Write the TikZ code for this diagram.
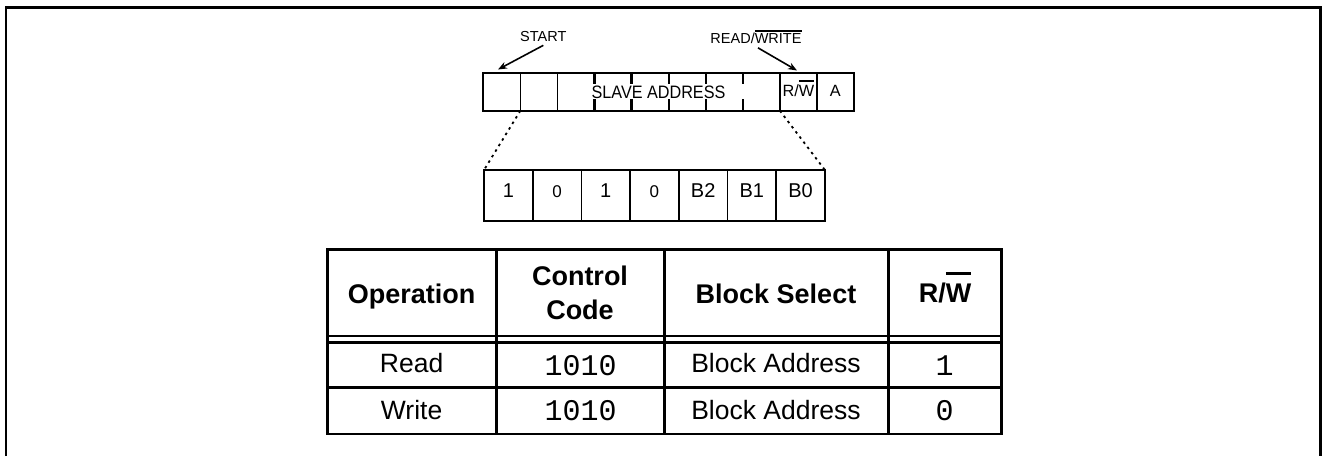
\documentclass[tikz,border=0pt]{standalone}
\usepackage{fontspec}
\setmainfont{Liberation Sans}
\newfontfamily\narrowsf[FakeStretch=0.9]{Liberation Sans}
\newfontfamily\monof{Liberation Mono}
\usetikzlibrary{arrows.meta}
\newlength\ovlen
\newcommand\ovtext[3]{\settowidth\ovlen{#3}\makebox[0pt][l]{\rule[#1]{\ovlen}{#2}}#3}
\begin{document}
\begin{tikzpicture}[x=1pt,y=-1pt,
  cell/.style={minimum width=37.07pt, minimum height=37.7pt, inner sep=0pt, outer sep=0pt, anchor=north west},
  bitcell/.style={draw, line width=1.8pt, minimum width=48.7pt, minimum height=51pt, inner sep=0pt, outer sep=0pt, anchor=north west},
  lbl/.style={font=\fontsize{14.5}{16}\selectfont, inner sep=1pt, anchor=base},
  celltxt/.style={font=\fontsize{16.3}{18}\selectfont, inner sep=0pt, anchor=base},
  bittxt/.style={font=\fontsize{20}{22}\selectfont, inner sep=0pt, anchor=base},
  bitzero/.style={font=\fontsize{17}{19}\selectfont, inner sep=0pt, anchor=base},
  head/.style={font=\bfseries\fontsize{27}{30}\selectfont, inner sep=0pt, anchor=base},
  body/.style={font=\fontsize{26.5}{29}\selectfont, inner sep=0pt, anchor=base},
  mono/.style={font=\monof\fontsize{30}{32}\selectfont, inner sep=0pt, anchor=base},
  arr/.style={line width=1.6pt, -{Stealth[length=9pt,width=7pt]}},
  dots/.style={line width=1.8pt, dash pattern=on 2.5pt off 4pt},
  thickrule/.style={line width=3pt}
]
\useasboundingbox (0,0) rectangle (1322,456);
% outer frame (open at the bottom)
\draw[line width=2.7pt] (6,456) -- (6,7.5) -- (1320.5,7.5) -- (1320.5,456);

% ---- top byte ----
\foreach \i in {1,...,10}
  \node[cell] (t\i) at ({483.3+37.07*(\i-1)},73) {};
\draw[line width=2pt] (t1.north west) rectangle (t10.south east);
\foreach \i in {1,2,8,9}
  \draw[line width=1.6pt] (t\i.north east) -- (t\i.south east);
\foreach \i in {3,...,7}{
  \draw[line width=2.2pt] (t\i.north east) -- ++(0,11);
  \draw[line width=2.2pt] (t\i.south east) -- ++(0,-12);
}
\node[font=\narrowsf\fontsize{18}{20}\selectfont, inner sep=0pt, anchor=base] (slave) at (658.5,98.3) {SLAVE ADDRESS};
\node[celltxt] (rwcell) at (798.4,96.9) {R/\ovtext{15.3pt}{1.3pt}{W}};
\node[celltxt] (acell) at (835.4,96.9) {A};

% labels and arrows
\node[lbl] (start) at (543.3,41) {START};
\node[lbl] (rwlabel) at (756,43.5) {READ/\ovtext{12pt}{1.3pt}{WRITE}};
\coordinate (startpt) at (498,69.5);
\coordinate (rwpt) at (797,70.5);
\draw[arr] (start.south) ++(0,3) -- (startpt);
\draw[arr] (rwlabel.south) ++(2,3) -- (rwpt);

% ---- expanded bits ----
\foreach \i in {0,...,6}
  \node[bitcell] (b\i) at ({484+48.7*\i},170) {};
\node[bittxt]  (v0) at (b0.center |- 0,197.3) {1};
\node[bitzero] (v1) at (b1.center |- 0,197.3) {0};
\node[bittxt]  (v2) at (b2.center |- 0,197.3) {1};
\node[bitzero] (v3) at (b3.center |- 0,197.3) {0};
\node[bittxt]  (v4) at (b4.center |- 0,197.3) {B2};
\node[bittxt]  (v5) at (b5.center |- 0,197.3) {B1};
\node[bittxt]  (v6) at (b6.center |- 0,197.3) {B0};

\draw[dots] (t1.south east) -- (b0.north west);
\draw[dots] (t8.south east) -- (b6.north east);

% ---- table ----
\draw[thickrule] (327.3,434) -- (327.3,249.3) -- (1001.7,249.3) -- (1001.7,434);
\draw[line width=2pt] (326,434) -- (1003,434);
\foreach \x in {496,664,888.3}
  \draw[thickrule] (\x,249.3) -- (\x,434);
\draw[line width=1.5pt] (327.3,336) -- (1001.7,336);
\draw[line width=2.8pt] (327.3,342.7) -- (1001.7,342.7);
\draw[line width=3.5pt] (327.3,387.3) -- (1003,387.3);

\node[head] (hop) at (411.6,303) {Operation};
\node[head] (hcc1) at (580,285.7) {Control};
\node[head] (hcc2) at (580,319.3) {Code};
\node[head] (hbs) at (776,303) {Block Select};
\node[head] (hrw) at (945,302.7) {R/\ovtext{28.2pt}{2.4pt}{W}};

\node[body] (r1op) at (411.6,372.7) {Read};
\node[mono] (r1cc) at (580.5,375) {1010};
\node[body] (r1bs) at (776,372.7) {Block Address};
\node[mono] (r1rw) at (944.5,375) {1};

\node[body] (r2op) at (411.6,419.4) {Write};
\node[mono] (r2cc) at (580.5,420.7) {1010};
\node[body] (r2bs) at (776,419.4) {Block Address};
\node[mono] (r2rw) at (944.5,420.7) {0};
\end{tikzpicture}
\end{document}
